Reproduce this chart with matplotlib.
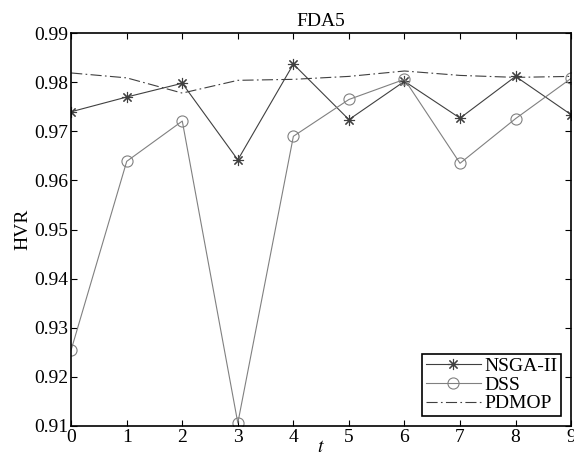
import numpy as np
import matplotlib
matplotlib.use('Agg')
import matplotlib.pyplot as plt

plt.rcParams['font.family'] = ['Liberation Serif', 'DejaVu Serif']
plt.rcParams['mathtext.fontset'] = 'stix'

t = np.arange(10)
nsga2 = [0.9740, 0.9770, 0.9798, 0.9642, 0.9837, 0.9724, 0.9802, 0.9727, 0.9812, 0.9734]
dss = [0.9255, 0.9639, 0.9721, 0.9106, 0.9690, 0.9765, 0.9806, 0.9635, 0.9726, 0.9808]
pdmop = [0.9819, 0.9809, 0.9778, 0.9804, 0.9806, 0.9812, 0.9823, 0.9814, 0.9810, 0.9812]

yticks = [0.91, 0.92, 0.93, 0.94, 0.95, 0.96, 0.97, 0.98, 0.99]

fig = plt.figure(figsize=(5.74, 4.61), dpi=100)
ax = fig.add_axes([0.124, 0.076, 0.871, 0.852])

ax.plot(t, nsga2, color='#404040', lw=0.8, marker=(8, 2, 0), ms=8, mew=0.8,
        label='NSGA-II')
ax.plot(t, dss, color='#808080', lw=0.8, marker='o', ms=8, mew=0.8,
        mfc='none', label='DSS')
ax.plot(t, pdmop, color='#404040', lw=0.8, ls=(0, (10, 3, 1.5, 3)),
        label='PDMOP')

ax.set_xlim(0, 9)
ax.set_ylim(0.91, 0.99)
ax.set_xticks(t)
ax.set_yticks(yticks)
ax.set_yticklabels([f'{v:.2f}' for v in yticks])
ax.tick_params(direction='in', top=True, right=True, labelsize=14, length=4,
               width=0.8, pad=2)
for s in ax.spines.values():
    s.set_linewidth(1.2)

ax.set_title('FDA5', fontsize=14, pad=5)
ax.set_xlabel(r'$t$', fontsize=14, labelpad=-5)
ax.set_ylabel('HVR', fontsize=14, labelpad=2)

leg = ax.legend(loc='lower right', fontsize=14, fancybox=False,
                edgecolor='black', framealpha=1, borderpad=0.2,
                labelspacing=0.05, handlelength=2.8, handletextpad=0.2,
                borderaxespad=0.5)
leg.get_frame().set_linewidth(1.2)

fig.savefig('out.png', dpi=100)
